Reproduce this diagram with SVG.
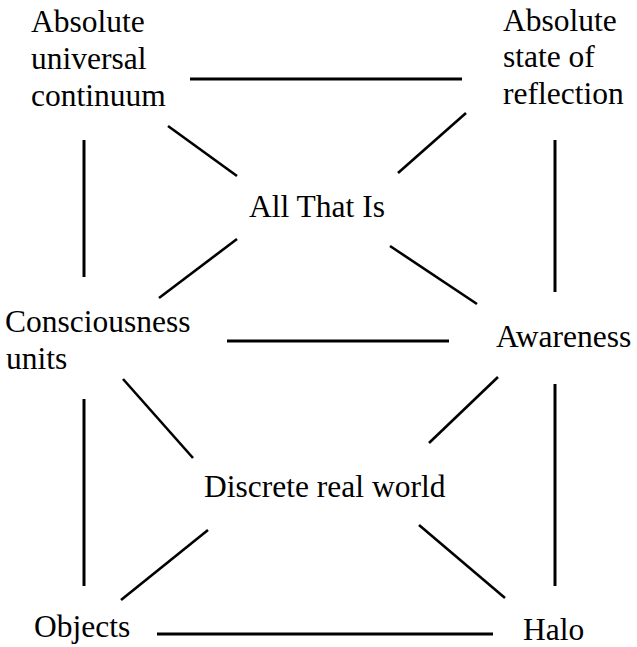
<svg xmlns="http://www.w3.org/2000/svg" width="637" height="647" viewBox="0 0 637 647">
<style>
text{font-family:"Liberation Serif","Times New Roman",serif;font-size:31.5px;fill:#000}
.c line{stroke:#000;stroke-width:3;stroke-linecap:butt}
.c line.d{stroke-width:2.6}
</style>
<rect width="637" height="647" fill="#fff"/>
<g id="n-auc"><text x="31" y="32">Absolute</text><text x="31" y="69">universal</text><text x="31" y="106">continuum</text></g>
<g id="n-asr"><text x="503" y="31">Absolute</text><text x="503" y="67">state of</text><text x="503" y="104">reflection</text></g>
<g id="n-all"><text x="249" y="217">All That Is</text></g>
<g id="n-cu"><text x="5" y="332">Consciousness</text><text x="6" y="369">units</text></g>
<g id="n-aw"><text x="496" y="347">Awareness</text></g>
<g id="n-drw"><text x="204" y="497">Discrete real world</text></g>
<g id="n-obj"><text x="34" y="637">Objects</text></g>
<g id="n-halo"><text x="523" y="640">Halo</text></g>
<g id="connectors" class="c">
<line x1="190" y1="79" x2="462" y2="79"/>
<line x1="84" y1="140" x2="84" y2="277"/>
<line x1="555" y1="140" x2="555" y2="292"/>
<line class="d" x1="168" y1="126" x2="237" y2="176"/>
<line class="d" x1="466" y1="113" x2="398" y2="173"/>
<line class="d" x1="237" y1="239" x2="159" y2="298"/>
<line class="d" x1="390" y1="246" x2="477" y2="304"/>
<line x1="227" y1="341" x2="449" y2="341"/>
<line x1="84" y1="399" x2="84" y2="586"/>
<line x1="555" y1="384" x2="555" y2="586"/>
<line class="d" x1="123" y1="379" x2="193" y2="458"/>
<line class="d" x1="498" y1="377" x2="429" y2="443"/>
<line class="d" x1="208" y1="530" x2="121" y2="600"/>
<line class="d" x1="419" y1="525" x2="505" y2="598"/>
<line x1="157" y1="634" x2="493" y2="634"/>
</g>
</svg>
